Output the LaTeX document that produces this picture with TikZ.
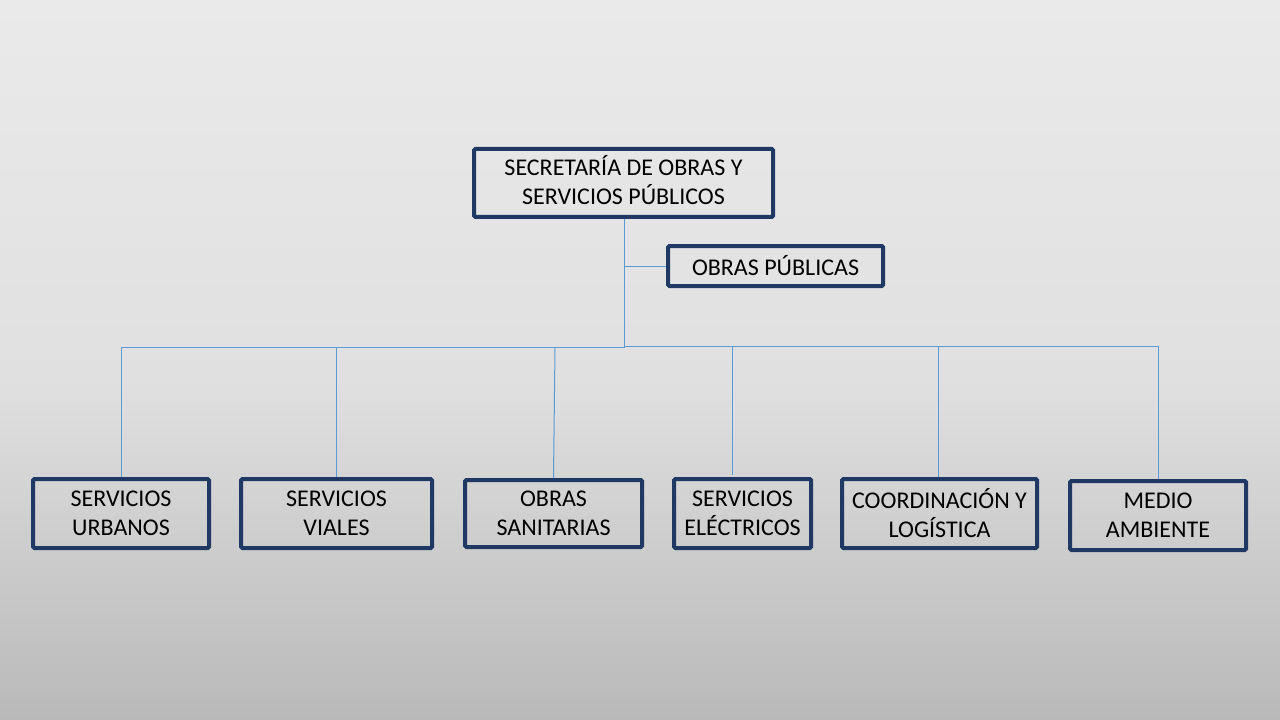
\documentclass[tikz,border=0pt]{standalone}
\usepackage{fontspec}
\setmainfont{Carlito}
\definecolor{navy}{HTML}{1F3864}
\definecolor{conn}{HTML}{5B9BD5}
\definecolor{bgtop}{HTML}{EAEAEA}
\definecolor{bgmid}{HTML}{E0E0E0}
\definecolor{bgbot}{HTML}{B9B9B9}
\begin{document}
\begin{tikzpicture}[x=0.75pt,y=-0.75pt,
  box/.style={draw=navy,line width=3pt,rounded corners=1pt,align=center,
    inner sep=0pt,font=\fontsize{18}{21.75}\selectfont,text=black},
  boxtext/.style={align=center,inner sep=0pt,font=\fontsize{18}{21.75}\selectfont,text=black},
  link/.style={draw=conn,line width=0.75pt}]
\useasboundingbox (0,0) rectangle (1280,720);
\fill[top color=bgtop,bottom color=bgmid] (0,0) rectangle (1280,380);
\fill[top color=bgmid,bottom color=bgbot] (0,379.5) rectangle (1280,720);

\coordinate (busL) at (624.5,347.5);
\coordinate (busR) at (624.5,346);
\coordinate (s1) at (555,347.5);
\coordinate (e1) at (732,346);
\coordinate (e2) at (732,475);
\coordinate (c1) at (938,346);

\node[box,minimum width=224.25pt,minimum height=51pt,
  label={[boxtext,yshift=2pt]center:SECRETARÍA DE OBRAS Y\\SERVICIOS PÚBLICOS}] (sec) at (623.5,183) {};
\node[box,minimum width=161.25pt,minimum height=30pt] (op) at (775.5,266) {OBRAS PÚBLICAS};
\node[box,minimum width=132pt,minimum height=51.75pt] (urb) at (121,513.5) {SERVICIOS\\URBANOS};
\node[box,minimum width=143.25pt,minimum height=51.75pt] (via) at (336.5,513.5) {SERVICIOS\\VIALES};
\node[box,minimum width=132.75pt,minimum height=50.25pt] (san) at (553.5,513.5) {OBRAS\\SANITARIAS};
\node[box,minimum width=102.75pt,minimum height=51.75pt] (ele) at (742.5,513.5) {SERVICIOS\\ELÉCTRICOS};
\node[box,minimum width=146.25pt,minimum height=51.75pt] (coo) at (939.5,513.5) {COORDINACIÓN Y\\LOGÍSTICA};
\node[box,minimum width=132pt,minimum height=51.75pt] (ma) at (1158,515.5) {MEDIO\\AMBIENTE};

\draw[link] (sec.south -| busL) -- (busL);
\draw[link] (busL |- op.west) -- (op.west);
\draw[link] (urb.north |- busL) -- (busL);
\draw[link] (busR) -- (ma.north |- busR);
\draw[link] (urb.north |- busL) -- (urb.north);
\draw[link] (via.north |- busL) -- (via.north);
\draw[link] (s1) -- (san.north);
\draw[link] (e1) -- (e2);
\draw[link] (c1) -- (c1 |- coo.north);
\draw[link] (ma.north |- busR) -- (ma.north);
\end{tikzpicture}
\end{document}
